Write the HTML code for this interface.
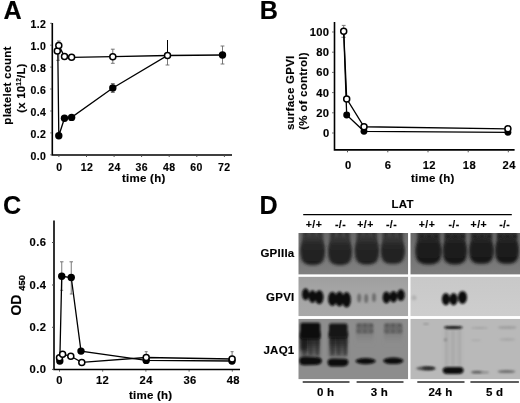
<!DOCTYPE html>
<html><head><meta charset="utf-8">
<style>
html,body{margin:0;padding:0;background:#fff;}
body{width:520px;height:403px;overflow:hidden;}
svg{display:block;will-change:transform;}
text{font-family:"Liberation Sans",sans-serif;font-weight:bold;fill:#000;stroke:#000;stroke-width:0.15px;}
.tk{font-size:10.5px;letter-spacing:0.4px;}
.tkb{font-size:11.2px;letter-spacing:0.4px;}
.lb{font-size:11.5px;letter-spacing:0.25px;}
.big{font-size:25.2px;}
</style></head><body>
<svg width="520" height="403" viewBox="0 0 520 403">
<defs>
<filter id="b1" x="-50%" y="-50%" width="200%" height="200%"><feGaussianBlur stdDeviation="1"/></filter>
<filter id="b2" x="-50%" y="-50%" width="200%" height="200%"><feGaussianBlur stdDeviation="2"/></filter>
<filter id="b3" x="-50%" y="-50%" width="200%" height="200%"><feGaussianBlur stdDeviation="3"/></filter>
</defs>

<!-- ================= PANEL A ================= -->
<text class="big" x="3.5" y="18.8">A</text>
<g stroke="#000" stroke-width="1.6" fill="none">
<path d="M52.3 23 V155 H232"/>
</g>
<g stroke="#555" stroke-width="1" fill="none">
<path d="M50.3 23.3H52M50.3 45.2H52M50.3 67.1H52M50.3 89H52M50.3 111H52M50.3 132.9H52M50.3 154.8H52"/>
<path d="M58.9 155.4v1.6M86.5 155.4v1.6M114.1 155.4v1.6M141.6 155.4v1.6M169.2 155.4v1.6M196.8 155.4v1.6M224.4 155.4v1.6"/>
</g>
<g class="tk" text-anchor="end">
<text x="46.3" y="28">1.2</text>
<text x="46.3" y="49.9">1.0</text>
<text x="46.3" y="71.8">0.8</text>
<text x="46.3" y="93.7">0.6</text>
<text x="46.3" y="115.7">0.4</text>
<text x="46.3" y="137.6">0.2</text>
<text x="46.3" y="159.5">0.0</text>
</g>
<g class="tk" text-anchor="middle">
<text x="59.3" y="171">0</text>
<text x="87" y="171">12</text>
<text x="114.4" y="171">24</text>
<text x="141.8" y="171">36</text>
<text x="169.2" y="171">48</text>
<text x="196.6" y="171">60</text>
<text x="224.2" y="171">72</text>
</g>
<text class="lb" x="143.8" y="181.5" text-anchor="middle">time (h)</text>
<text class="lb" transform="translate(10.5 85.5) rotate(-90)" text-anchor="middle">platelet count</text>
<text class="lb" style="font-size:11.3px" transform="translate(25 88) rotate(-90)" text-anchor="middle">(x 10<tspan font-size="6.5" dy="-4.3">12</tspan><tspan dy="4.3">/L)</tspan></text>
<!-- error bars A -->
<g stroke="#6a6a6a" stroke-width="0.9" fill="none">
<path d="M58.8 41V60.3M57 41H60.6M56.2 60.3H59.8"/>
<path d="M112.8 49.2V63.3M110.9 49.2H114.7M110.9 63.3H114.7"/>
<path d="M112.8 83.5V92.5M110.9 83.5H114.7M110.9 92.5H114.7"/>
<path d="M167.5 40V65M165.6 65H169.4"/>
<path d="M222.5 46V64M220.6 46H224.4M220.6 64H224.4"/>
</g>
<path d="M167.5 40V52" stroke="#000" stroke-width="1"/>
<!-- lines A -->
<g stroke="#000" stroke-width="1.3" fill="none">
<polyline points="57.8,51 58.8,135.7 64.5,118.2 71.6,117.4 112.8,88 167.5,55.5 222.5,55"/>
<polyline points="58.8,45.4 64.5,56.6 71.6,57.3 112.8,56.7 167.5,55.5"/>
</g>
<g fill="#000">
<circle cx="58.8" cy="135.7" r="3.7"/>
<circle cx="64.5" cy="118.2" r="3.7"/>
<circle cx="71.6" cy="117.4" r="3.7"/>
<circle cx="112.8" cy="88" r="3.7"/>
<circle cx="222.5" cy="55" r="3.7"/>
</g>
<g fill="#fff" stroke="#000" stroke-width="1.5">
<circle cx="57.3" cy="51" r="3"/>
<circle cx="58.8" cy="45.4" r="3"/>
<circle cx="64.5" cy="56.6" r="3"/>
<circle cx="71.6" cy="57.3" r="3"/>
<circle cx="112.8" cy="56.7" r="3"/>
<circle cx="167.5" cy="55.5" r="3"/>
</g>

<!-- ================= PANEL B ================= -->
<text class="big" x="259.7" y="19">B</text>
<g stroke="#000" stroke-width="1.6" fill="none">
<path d="M334.5 22 V149.9 H514.6"/>
</g>
<g stroke="#555" stroke-width="1" fill="none">
<path d="M332.2 32H333.8M332.2 52.2H333.8M332.2 72.4H333.8M332.2 92.6H333.8M332.2 112.8H333.8M332.2 133H333.8"/>
<path d="M347.5 150.7v1.6M387.8 150.7v1.6M428 150.7v1.6M468.2 150.7v1.6M508.3 150.7v1.6"/>
</g>
<g class="tkb" text-anchor="end">
<text x="329.5" y="35.9">100</text>
<text x="329.5" y="56.1">80</text>
<text x="329.5" y="76.3">60</text>
<text x="329.5" y="96.5">40</text>
<text x="329.5" y="116.7">20</text>
<text x="329.5" y="136.9">0</text>
</g>
<g class="tkb" text-anchor="middle">
<text x="348.2" y="169">0</text>
<text x="388" y="169">6</text>
<text x="429.3" y="169">12</text>
<text x="469.4" y="169">18</text>
<text x="509.2" y="169">24</text>
</g>
<text class="lb" x="432.8" y="181.8" text-anchor="middle">time (h)</text>
<text class="lb" transform="translate(293.6 92.8) rotate(-90)" text-anchor="middle">surface GPVI</text>
<text class="lb" transform="translate(306.6 91) rotate(-90)" text-anchor="middle">(% of control)</text>
<g stroke="#6a6a6a" stroke-width="0.9" fill="none">
<path d="M343.7 25.4V37.3M341.8 25.4H345.6M341.4 37.3H345.6"/>
</g>
<g stroke="#000" stroke-width="1.3" fill="none">
<polyline points="343.7,31.3 346.7,98.9 364,126.75 507.9,128.8"/>
<polyline points="343.7,31.3 346.7,115 364,131.3 507.9,132.3"/>
</g>
<g fill="#000">
<circle cx="346.7" cy="115" r="3.45"/>
<circle cx="364" cy="131.3" r="3.45"/>
<circle cx="507.9" cy="132.3" r="3.45"/>
</g>
<g fill="#fff" stroke="#000" stroke-width="1.5">
<circle cx="343.7" cy="31.3" r="3"/>
<circle cx="346.7" cy="98.9" r="3"/>
<circle cx="364" cy="126.75" r="3"/>
<circle cx="507.9" cy="128.8" r="3"/>
</g>

<!-- ================= PANEL C ================= -->
<text class="big" x="3" y="213.6">C</text>
<g stroke="#000" stroke-width="1.6" fill="none">
<path d="M54 220.5 V369.5 H240"/>
</g>
<g stroke="#555" stroke-width="1" fill="none">
<path d="M52 242.5H53.5M52 285H53.5M52 327.3H53.5M52 369.4H53.5"/>
<path d="M59.5 370v1.6M102.7 370v1.6M145.9 370v1.6M189.1 370v1.6M232.3 370v1.6"/>
</g>
<g class="tkb" text-anchor="end">
<text x="46.3" y="246.4">0.6</text>
<text x="46.3" y="288.7">0.4</text>
<text x="46.3" y="331.2">0.2</text>
<text x="46.3" y="373.4">0.0</text>
</g>
<g class="tkb" text-anchor="middle">
<text x="59.5" y="384">0</text>
<text x="102.5" y="384">12</text>
<text x="146.2" y="384">24</text>
<text x="190" y="384">36</text>
<text x="233.3" y="384">48</text>
</g>
<text class="lb" x="150.7" y="398.6" text-anchor="middle">time (h)</text>
<text style="font-size:14px" transform="translate(21 305.1) rotate(-90)" text-anchor="middle">OD</text>
<text style="font-size:9.3px;stroke-width:0.25px" transform="translate(24.7 282.9) rotate(-90)" text-anchor="middle">450</text>
<g stroke="#6a6a6a" stroke-width="0.9" fill="none">
<path d="M61.75 261.8V290.3M60 261.8H63.5M60.3 290.3H63.2"/>
<path d="M71.25 261.8V294M69.5 261.8H73M69.8 294H72.7"/>
<path d="M146.2 351.7V357M144.7 351.7H147.7"/>
<path d="M232.1 351.7V357M230.6 351.7H233.6"/>
</g>
<g stroke="#000" stroke-width="1.3" fill="none">
<polyline points="59.8,361 61.75,276.25 71.25,277.5 81,351.1 146.2,360.4 232,361"/>
<polyline points="59.5,357.8 62.6,354.2 70.8,356.3 81.8,362.4 146.2,357.5 232.1,359"/>
</g>
<g fill="#000">
<circle cx="59.8" cy="361" r="3.7"/>
<circle cx="61.75" cy="276.25" r="3.7"/>
<circle cx="71.25" cy="277.5" r="3.7"/>
<circle cx="81" cy="351.1" r="3.7"/>
<circle cx="146.2" cy="360.4" r="3.7"/>
<circle cx="232" cy="361" r="3.7"/>
</g>
<g fill="#fff" stroke="#000" stroke-width="1.5">
<circle cx="59.5" cy="357.8" r="3"/>
<circle cx="62.6" cy="354.2" r="3"/>
<circle cx="70.8" cy="356.3" r="3"/>
<circle cx="81.8" cy="362.4" r="3"/>
<circle cx="146.2" cy="357.5" r="3"/>
<circle cx="232.1" cy="359" r="3"/>
</g>

<!-- ================= PANEL D ================= -->
<text class="big" x="259.5" y="213.5">D</text>
<text class="lb" x="391.5" y="208">LAT</text>
<path d="M303.2 214.6H511.8" stroke="#000" stroke-width="1.2"/>
<g class="tk" text-anchor="middle">
<text x="314" y="228">+/+</text>
<text x="340.5" y="228">-/-</text>
<text x="365.5" y="228">+/+</text>
<text x="391.5" y="228">-/-</text>
<text x="427" y="228">+/+</text>
<text x="454" y="228">-/-</text>
<text x="478.8" y="228">+/+</text>
<text x="504.7" y="228">-/-</text>
</g>
<g class="lb" text-anchor="end">
<text x="294.5" y="256.5">GPIIIa</text>
<text x="294.5" y="300.7">GPVI</text>
<text x="294.5" y="354.3">JAQ1</text>
</g>
<defs>
<linearGradient id="g3l" x1="0" y1="0" x2="0" y2="1"><stop offset="0" stop-color="#6c6c6c"/><stop offset="0.45" stop-color="#767676"/><stop offset="1" stop-color="#808080"/></linearGradient>
<linearGradient id="g3r" x1="0" y1="0" x2="0" y2="1"><stop offset="0" stop-color="#6a6a6a"/><stop offset="0.45" stop-color="#727272"/><stop offset="1" stop-color="#7e7e7e"/></linearGradient>
<linearGradient id="gvl" x1="0" y1="0" x2="0" y2="1"><stop offset="0" stop-color="#9e9e9e"/><stop offset="0.3" stop-color="#a4a4a4"/><stop offset="1" stop-color="#a8a8a8"/></linearGradient>
<linearGradient id="gvr" x1="0" y1="0" x2="0" y2="1"><stop offset="0" stop-color="#c8c8c8"/><stop offset="1" stop-color="#cecece"/></linearGradient>
<linearGradient id="smear" x1="0" y1="0" x2="0" y2="1"><stop offset="0" stop-color="#111" stop-opacity="1"/><stop offset="0.45" stop-color="#2a2a2a" stop-opacity="0.9"/><stop offset="1" stop-color="#4a4a4a" stop-opacity="0.6"/></linearGradient>
<linearGradient id="smear2" x1="0" y1="0" x2="0" y2="1"><stop offset="0" stop-color="#666" stop-opacity="0.6"/><stop offset="1" stop-color="#888" stop-opacity="0"/></linearGradient>
<linearGradient id="bodyg" x1="0" y1="0" x2="0" y2="1"><stop offset="0" stop-color="#3c3c3c"/><stop offset="0.35" stop-color="#262626"/><stop offset="1" stop-color="#1e1e1e"/></linearGradient>
<linearGradient id="bodyg2" x1="0" y1="0" x2="0" y2="1"><stop offset="0" stop-color="#2c2c2c"/><stop offset="0.3" stop-color="#1c1c1c"/><stop offset="1" stop-color="#181818"/></linearGradient>
<filter id="b08" x="-50%" y="-50%" width="200%" height="200%"><feGaussianBlur stdDeviation="0.8"/></filter>
<filter id="b12" x="-50%" y="-50%" width="200%" height="200%"><feGaussianBlur stdDeviation="1.2"/></filter>
<filter id="b15" x="-50%" y="-50%" width="200%" height="200%"><feGaussianBlur stdDeviation="1.5"/></filter>
<filter id="b25" x="-50%" y="-50%" width="200%" height="200%"><feGaussianBlur stdDeviation="2.5"/></filter>
<clipPath id="cl3l"><rect x="298.5" y="233" width="109.7" height="41.6"/></clipPath>
<clipPath id="cl3r"><rect x="410.3" y="233" width="109.7" height="41.6"/></clipPath>
<clipPath id="cljl"><rect x="298.5" y="318.8" width="109.7" height="60.3"/></clipPath>
<clipPath id="cljr"><rect x="410.3" y="318.8" width="109.7" height="60.3"/></clipPath>
<clipPath id="clvl"><rect x="298.5" y="276.6" width="109.7" height="39.6"/></clipPath>
<clipPath id="clvr"><rect x="410.3" y="276.6" width="109.7" height="39.6"/></clipPath>
</defs>
<rect x="298.5" y="233" width="109.7" height="41.6" fill="url(#g3l)"/>
<rect x="410.3" y="233" width="109.7" height="41.6" fill="url(#g3r)"/>
<rect x="298.5" y="276.6" width="109.7" height="39.6" fill="url(#gvl)"/>
<rect x="410.3" y="276.6" width="109.7" height="39.6" fill="url(#gvr)"/>
<rect x="298.5" y="318.8" width="109.7" height="60.3" fill="#8d8d8d"/>
<rect x="410.3" y="318.8" width="109.7" height="60.3" fill="#b9b9b9"/>
<g clip-path="url(#cl3l)"><rect x="301.9" y="230" width="21.6" height="22" fill="#444444" filter="url(#b15)"/><rect x="304.2" y="230" width="3" height="20" fill="#333" filter="url(#b12)"/><rect x="311.2" y="230" width="3" height="20" fill="#333" filter="url(#b12)"/><rect x="318.2" y="230" width="3" height="20" fill="#333" filter="url(#b12)"/><path d="M312.7 235 C323.15 235 325 246 325 252 C325 263 320.08 265 312.7 265 C305.32 265 300.4 263 300.4 252 C300.4 246 302.25 235 312.7 235 Z" fill="url(#bodyg)" filter="url(#b15)"/></g>
<g clip-path="url(#cl3l)"><rect x="329.5" y="230" width="21" height="22" fill="#444444" filter="url(#b15)"/><rect x="331.5" y="230" width="3" height="20" fill="#333" filter="url(#b12)"/><rect x="338.5" y="230" width="3" height="20" fill="#333" filter="url(#b12)"/><rect x="345.5" y="230" width="3" height="20" fill="#333" filter="url(#b12)"/><path d="M340 236 C350.2 236 352 246.5 352 252.5 C352 263 347.2 265 340 265 C332.8 265 328 263 328 252.5 C328 246.5 329.8 236 340 236 Z" fill="url(#bodyg)" filter="url(#b15)"/></g>
<g clip-path="url(#cl3l)"><rect x="356.2" y="230" width="21.4" height="22" fill="#444444" filter="url(#b15)"/><rect x="358.4" y="230" width="3" height="20" fill="#333" filter="url(#b12)"/><rect x="365.4" y="230" width="3" height="20" fill="#333" filter="url(#b12)"/><rect x="372.4" y="230" width="3" height="20" fill="#333" filter="url(#b12)"/><path d="M366.9 235 C377.27 235 379.1 245.75 379.1 251.75 C379.1 262.5 374.22 264.5 366.9 264.5 C359.58 264.5 354.7 262.5 354.7 251.75 C354.7 245.75 356.53 235 366.9 235 Z" fill="url(#bodyg)" filter="url(#b15)"/></g>
<g clip-path="url(#cl3l)"><rect x="382.3" y="230" width="21" height="22" fill="#444444" filter="url(#b15)"/><rect x="384.3" y="230" width="3" height="20" fill="#333" filter="url(#b12)"/><rect x="391.3" y="230" width="3" height="20" fill="#333" filter="url(#b12)"/><rect x="398.3" y="230" width="3" height="20" fill="#333" filter="url(#b12)"/><path d="M392.8 236 C403 236 404.8 245.9 404.8 251.9 C404.8 261.8 400 263.8 392.8 263.8 C385.6 263.8 380.8 261.8 380.8 251.9 C380.8 245.9 382.6 236 392.8 236 Z" fill="url(#bodyg)" filter="url(#b15)"/></g>
<g clip-path="url(#cl3r)"><rect x="417" y="230" width="23" height="22" fill="#303030" filter="url(#b15)"/><rect x="420" y="230" width="3" height="20" fill="#333" filter="url(#b12)"/><rect x="427" y="230" width="3" height="20" fill="#333" filter="url(#b12)"/><rect x="434" y="230" width="3" height="20" fill="#333" filter="url(#b12)"/><path d="M428.5 236 C439.55 236 441.5 246.25 441.5 252.25 C441.5 262.5 436.3 264.5 428.5 264.5 C420.7 264.5 415.5 262.5 415.5 252.25 C415.5 246.25 417.45 236 428.5 236 Z" fill="url(#bodyg2)" filter="url(#b15)"/><ellipse cx="422" cy="236.5" rx="2.2" ry="1.7" fill="#1c1c1c" filter="url(#b08)"/><ellipse cx="429" cy="236.5" rx="2.2" ry="1.7" fill="#1c1c1c" filter="url(#b08)"/><ellipse cx="436" cy="236.5" rx="2.2" ry="1.7" fill="#1c1c1c" filter="url(#b08)"/></g>
<g clip-path="url(#cl3r)"><rect x="444.4" y="230" width="21" height="22" fill="#303030" filter="url(#b15)"/><rect x="446.4" y="230" width="3" height="20" fill="#333" filter="url(#b12)"/><rect x="453.4" y="230" width="3" height="20" fill="#333" filter="url(#b12)"/><rect x="460.4" y="230" width="3" height="20" fill="#333" filter="url(#b12)"/><path d="M454.9 236 C465.1 236 466.9 246.25 466.9 252.25 C466.9 262.5 462.1 264.5 454.9 264.5 C447.7 264.5 442.9 262.5 442.9 252.25 C442.9 246.25 444.7 236 454.9 236 Z" fill="url(#bodyg2)" filter="url(#b15)"/><ellipse cx="448.4" cy="236.5" rx="2.2" ry="1.7" fill="#1c1c1c" filter="url(#b08)"/><ellipse cx="455.4" cy="236.5" rx="2.2" ry="1.7" fill="#1c1c1c" filter="url(#b08)"/><ellipse cx="462.4" cy="236.5" rx="2.2" ry="1.7" fill="#1c1c1c" filter="url(#b08)"/></g>
<g clip-path="url(#cl3r)"><rect x="470.7" y="230" width="21.4" height="22" fill="#303030" filter="url(#b15)"/><rect x="472.9" y="230" width="3" height="20" fill="#333" filter="url(#b12)"/><rect x="479.9" y="230" width="3" height="20" fill="#333" filter="url(#b12)"/><rect x="486.9" y="230" width="3" height="20" fill="#333" filter="url(#b12)"/><path d="M481.4 236 C491.77 236 493.6 245.9 493.6 251.9 C493.6 261.8 488.72 263.8 481.4 263.8 C474.08 263.8 469.2 261.8 469.2 251.9 C469.2 245.9 471.03 236 481.4 236 Z" fill="url(#bodyg2)" filter="url(#b15)"/><ellipse cx="474.9" cy="236.5" rx="2.2" ry="1.7" fill="#1c1c1c" filter="url(#b08)"/><ellipse cx="481.9" cy="236.5" rx="2.2" ry="1.7" fill="#1c1c1c" filter="url(#b08)"/><ellipse cx="488.9" cy="236.5" rx="2.2" ry="1.7" fill="#1c1c1c" filter="url(#b08)"/></g>
<g clip-path="url(#cl3r)"><rect x="496.7" y="230" width="20.6" height="22" fill="#303030" filter="url(#b15)"/><rect x="498.5" y="230" width="3" height="20" fill="#333" filter="url(#b12)"/><rect x="505.5" y="230" width="3" height="20" fill="#333" filter="url(#b12)"/><rect x="512.5" y="230" width="3" height="20" fill="#333" filter="url(#b12)"/><path d="M507 236 C517.03 236 518.8 245.9 518.8 251.9 C518.8 261.8 514.08 263.8 507 263.8 C499.92 263.8 495.2 261.8 495.2 251.9 C495.2 245.9 496.97 236 507 236 Z" fill="url(#bodyg2)" filter="url(#b15)"/><ellipse cx="500.5" cy="236.5" rx="2.2" ry="1.7" fill="#1c1c1c" filter="url(#b08)"/><ellipse cx="507.5" cy="236.5" rx="2.2" ry="1.7" fill="#1c1c1c" filter="url(#b08)"/><ellipse cx="514.5" cy="236.5" rx="2.2" ry="1.7" fill="#1c1c1c" filter="url(#b08)"/></g>
<g filter="url(#b08)" fill="#0a0a0a">
<ellipse cx="305.6" cy="294.2" rx="3.6" ry="6"/>
<ellipse cx="312.5" cy="296.5" rx="3.9" ry="6.3"/>
<ellipse cx="319.3" cy="297.3" rx="4.2" ry="7"/>
<ellipse cx="332.4" cy="298.9" rx="4.3" ry="7.2"/>
<ellipse cx="339.5" cy="299" rx="4.3" ry="7.5"/>
<ellipse cx="346.6" cy="299.8" rx="4.3" ry="7.7"/>
<ellipse cx="386.4" cy="297.5" rx="3.8" ry="6"/>
<ellipse cx="393.5" cy="296.7" rx="3.8" ry="5.8"/>
<ellipse cx="400.9" cy="295.1" rx="3.9" ry="5.8"/>
<ellipse cx="445.9" cy="299.2" rx="4" ry="6.2"/>
<ellipse cx="453.6" cy="299.2" rx="4" ry="6.2"/>
<ellipse cx="462.5" cy="297.4" rx="4.5" ry="6.5"/>
</g>
<g filter="url(#b12)" fill="#6e6e6e">
<ellipse cx="359.2" cy="298" rx="2" ry="4.5"/>
<ellipse cx="366.2" cy="298.4" rx="2" ry="4.5"/>
<ellipse cx="374" cy="297.4" rx="2" ry="4.5"/>
</g>
<ellipse cx="414" cy="297.8" rx="2.5" ry="2.5" fill="#b2b2b2" filter="url(#b08)"/>
<g clip-path="url(#cljl)">
<rect x="300.5" y="332" width="19.5" height="25" fill="url(#smear)" filter="url(#b15)"/>
<rect x="329" y="332" width="18.5" height="25" fill="url(#smear)" filter="url(#b15)"/>
<rect x="356" y="330" width="17.5" height="16" fill="url(#smear2)" filter="url(#b15)"/>
<rect x="384" y="330" width="18.5" height="16" fill="url(#smear2)" filter="url(#b15)"/>
<rect x="300.5" y="334" width="6.5" height="16" fill="#151515" opacity="0.75" filter="url(#b15)"/>
<rect x="303" y="336" width="2.6" height="19" fill="#1a1a1a" opacity="0.45" filter="url(#b12)"/>
<rect x="309.5" y="336" width="2.6" height="19" fill="#1a1a1a" opacity="0.45" filter="url(#b12)"/>
<rect x="316" y="336" width="2.6" height="19" fill="#1a1a1a" opacity="0.45" filter="url(#b12)"/>
<rect x="331" y="336" width="2.6" height="19" fill="#1a1a1a" opacity="0.45" filter="url(#b12)"/>
<rect x="337.5" y="336" width="2.6" height="19" fill="#1a1a1a" opacity="0.45" filter="url(#b12)"/>
<rect x="344" y="336" width="2.6" height="19" fill="#1a1a1a" opacity="0.45" filter="url(#b12)"/>
<rect x="300.3" y="322.8" width="20" height="16" rx="2" fill="#0e0e0e" filter="url(#b12)"/>
<rect x="329" y="323.6" width="18.5" height="14" rx="2" fill="#131313" filter="url(#b12)"/>
<rect x="356.3" y="323.3" width="17" height="10" rx="2" fill="#6c6c6c" filter="url(#b12)"/>
<rect x="384" y="323.3" width="18.5" height="10" rx="2" fill="#6c6c6c" filter="url(#b12)"/>
<ellipse cx="359" cy="325.5" rx="1.6" ry="1.8" fill="#555" filter="url(#b08)"/>
<ellipse cx="365" cy="325.5" rx="1.6" ry="1.8" fill="#555" filter="url(#b08)"/>
<ellipse cx="371" cy="325.5" rx="1.6" ry="1.8" fill="#555" filter="url(#b08)"/>
<ellipse cx="387" cy="325.5" rx="1.6" ry="1.8" fill="#555" filter="url(#b08)"/>
<ellipse cx="393" cy="325.5" rx="1.6" ry="1.8" fill="#555" filter="url(#b08)"/>
<ellipse cx="399.5" cy="325.5" rx="1.6" ry="1.8" fill="#555" filter="url(#b08)"/>
<ellipse cx="359" cy="331" rx="1.6" ry="2" fill="#5c5c5c" filter="url(#b08)"/>
<ellipse cx="365" cy="331" rx="1.6" ry="2" fill="#5c5c5c" filter="url(#b08)"/>
<ellipse cx="371" cy="331" rx="1.6" ry="2" fill="#5c5c5c" filter="url(#b08)"/>
<ellipse cx="387" cy="331" rx="1.6" ry="2" fill="#5c5c5c" filter="url(#b08)"/>
<ellipse cx="393" cy="331" rx="1.6" ry="2" fill="#5c5c5c" filter="url(#b08)"/>
<ellipse cx="399.5" cy="331" rx="1.6" ry="2" fill="#5c5c5c" filter="url(#b08)"/>
<path d="M299.3 360.7 C299.3 357 302 356.4 306 356.5 L318 357.3 C321.2 357.6 322 359.5 321.8 361.2 C321.5 364 318.5 365 314 365 L305 365.2 C301 365.2 299.3 364 299.3 360.7 Z" fill="#080808" filter="url(#b08)"/>
<path d="M327.6 362.4 C327.6 359.3 330 358.5 334 358.6 L344 358.8 C347.6 358.9 348.5 360.4 348.4 362.4 C348.2 365 346 366.4 342 366.4 L333 366.6 C329.5 366.6 327.6 365.2 327.6 362.4 Z" fill="#080808" filter="url(#b08)"/>
<ellipse cx="365.6" cy="361.1" rx="10.2" ry="3.1" fill="#0a0a0a" filter="url(#b08)"/>
<ellipse cx="393.3" cy="360.8" rx="10.2" ry="3.3" fill="#0a0a0a" filter="url(#b08)"/>
</g>
<g clip-path="url(#cljr)">
<rect x="443.5" y="329" width="19" height="38" fill="#b2b2b2" filter="url(#b15)"/>
<rect x="445.5" y="330" width="2" height="36" fill="#a8a8a8" filter="url(#b08)"/>
<rect x="452" y="330" width="2" height="36" fill="#a8a8a8" filter="url(#b08)"/>
<rect x="458.5" y="330" width="2" height="36" fill="#a8a8a8" filter="url(#b08)"/>
<ellipse cx="445.5" cy="339.8" rx="1.5" ry="1.5" fill="#888" filter="url(#b08)"/>
<ellipse cx="426" cy="324" rx="3" ry="0.9" fill="#999" filter="url(#b08)"/>
<ellipse cx="426" cy="368.3" rx="10" ry="2" fill="#555" filter="url(#b08)"/>
<ellipse cx="428.5" cy="368.3" rx="6.5" ry="1.6" fill="#2a2a2a" filter="url(#b08)"/>
<ellipse cx="453.3" cy="327.5" rx="9.5" ry="1.6" fill="#151515" filter="url(#b08)"/>
<path d="M442.7 370.5 C442.7 367.5 445 366.8 449 366.9 L459 367 C462.5 367.1 463.6 368.5 463.6 370.5 C463.6 373 461.5 374 458 374 L448 374 C444.5 374 442.7 373 442.7 370.5 Z" fill="#080808" filter="url(#b08)"/>
<ellipse cx="479.5" cy="327.9" rx="8.5" ry="1" fill="#a2a2a2" filter="url(#b08)"/>
<ellipse cx="476" cy="340.2" rx="5" ry="1" fill="#acacac" filter="url(#b08)"/>
<ellipse cx="507.3" cy="327.5" rx="9.5" ry="1.6" fill="#a0a0a0" filter="url(#b08)"/>
<ellipse cx="507.3" cy="339.5" rx="8" ry="1.5" fill="#a8a8a8" filter="url(#b08)"/>
<ellipse cx="477" cy="372.2" rx="6" ry="1.4" fill="#5a5a5a" filter="url(#b08)"/>
<ellipse cx="485" cy="372.4" rx="4" ry="1.1" fill="#8c8c8c" filter="url(#b08)"/>
<ellipse cx="506.5" cy="371.6" rx="9" ry="1.5" fill="#6e6e6e" filter="url(#b08)"/>
</g>
<g fill="#fff">
<rect x="298" y="274.6" width="222" height="2"/>
<rect x="298" y="316.2" width="222" height="2.6"/>
<rect x="408.2" y="232" width="2.1" height="147"/>
</g>
<g stroke="#2a2a2a" stroke-width="1.7">
<path d="M302.7 382H349.5M356.6 382H403.5M417.3 382H464.5M470.4 382H518.9"/>
</g>
<g class="lb" text-anchor="middle">
<text x="325.7" y="396">0 h</text>
<text x="379.4" y="396">3 h</text>
<text x="440.4" y="396">24 h</text>
<text x="494.6" y="396">5 d</text>
</g>
</svg>
</body></html>
